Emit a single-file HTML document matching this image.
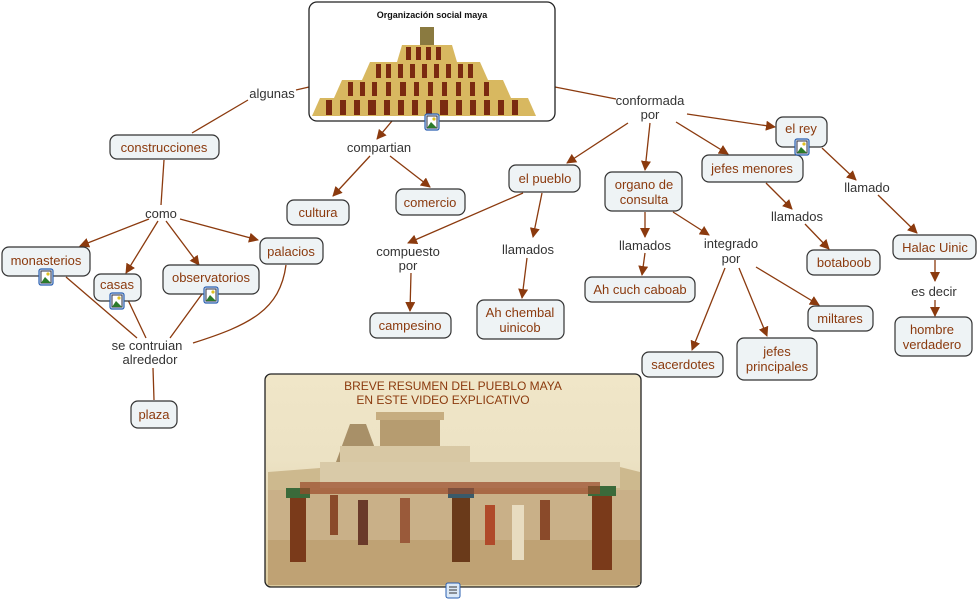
<!DOCTYPE html>
<html><head><meta charset="utf-8"><style>
body{margin:0;background:#fff;}
svg{display:block;font-family:"Liberation Sans",sans-serif;}
.n{fill:#eef3f5;stroke:#333;stroke-width:1.2;}
.t{fill:#8b3a0e;font-size:13px;text-anchor:middle;}
.l{fill:#333;font-size:13px;text-anchor:middle;}
.c{stroke:#8b3a0e;stroke-width:1.3;fill:none;}
</style></head><body>
<svg width="978" height="601" viewBox="0 0 978 601">
<defs>
<marker id="a" viewBox="0 0 10 10" refX="9" refY="5" markerWidth="10" markerHeight="10" markerUnits="userSpaceOnUse" orient="auto"><path d="M0,0L10,5L0,10z" fill="#8b3a0e"/></marker>
<linearGradient id="sky" x1="0" y1="0" x2="0" y2="1"><stop offset="0" stop-color="#f0e6c8"/><stop offset="0.4" stop-color="#ece2c4"/><stop offset="1" stop-color="#dccb9e"/></linearGradient>
<g id="ic"><rect x="-7" y="-8" width="14" height="16" rx="2" fill="#dce9f7" stroke="#2a5fb0" stroke-width="1.2"/><rect x="-5" y="-6" width="10" height="12" fill="#fff" stroke="#334"/><path d="M-5,6L-1,0L5,6z" fill="#2b7a2b"/><circle cx="2" cy="-3" r="1.6" fill="#e0c020"/></g>
</defs>
<g class="c">
<path d="M309,87L296,90"/><path d="M248,100L192,133"/>
<path d="M164,160L161,205"/>
<path d="M149,219L80,246" marker-end="url(#a)"/>
<path d="M158,221L126,273" marker-end="url(#a)"/>
<path d="M166,221L199,265" marker-end="url(#a)"/>
<path d="M180,219L258,240" marker-end="url(#a)"/>
<path d="M66,277L137,338"/><path d="M128,300L146,338"/><path d="M202,294L170,338"/>
<path d="M286,265C280,310 250,325 193,343"/>
<path d="M153,368L154,400"/>
<path d="M392,121L377,139" marker-end="url(#a)"/>
<path d="M370,156L333,196" marker-end="url(#a)"/>
<path d="M390,156L430,187" marker-end="url(#a)"/>
<path d="M555,87L616,99"/>
<path d="M628,123L567,163" marker-end="url(#a)"/>
<path d="M650,123L645,170" marker-end="url(#a)"/>
<path d="M676,122L728,154" marker-end="url(#a)"/>
<path d="M687,114L775,127" marker-end="url(#a)"/>
<path d="M822,148L856,180" marker-end="url(#a)"/>
<path d="M878,195L917,233" marker-end="url(#a)"/>
<path d="M935,260L935,281" marker-end="url(#a)"/>
<path d="M935,300L935,316" marker-end="url(#a)"/>
<path d="M766,183L792,209" marker-end="url(#a)"/>
<path d="M805,224L829,249" marker-end="url(#a)"/>
<path d="M645,212L645,237" marker-end="url(#a)"/>
<path d="M645,253L642,275" marker-end="url(#a)"/>
<path d="M673,212L709,235" marker-end="url(#a)"/>
<path d="M725,268L692,350" marker-end="url(#a)"/>
<path d="M739,268L767,336" marker-end="url(#a)"/>
<path d="M756,267L819,305" marker-end="url(#a)"/>
<path d="M523,193L408,243" marker-end="url(#a)"/>
<path d="M542,193L533,237" marker-end="url(#a)"/>
<path d="M527,258L522,298" marker-end="url(#a)"/>
<path d="M411,273L410,311" marker-end="url(#a)"/>
</g>
<rect x="309" y="2" width="246" height="119" rx="8" fill="#fff" stroke="#222" stroke-width="1.3"/>
<text x="432" y="18" font-size="9" font-weight="bold" text-anchor="middle" fill="#111">Organización social maya</text>
<rect x="420" y="27" width="14" height="18" fill="#8a7a40"/>
<path d="M397,62L402,45L452,45L457,62z" fill="#d8b860"/>
<path d="M362,80L370,62L480,62L488,80z" fill="#d8b860"/>
<path d="M334,98L342,80L503,80L511,98z" fill="#d8b860"/>
<path d="M312,116L320,98L528,98L536,116z" fill="#d8b860"/>
<g fill="#7a2a10">
<rect x="406" y="47" width="5" height="13"/><rect x="416" y="47" width="5" height="13"/><rect x="426" y="47" width="5" height="13"/><rect x="436" y="47" width="5" height="13"/>
<rect x="376" y="64" width="5" height="14"/><rect x="386" y="64" width="5" height="14"/><rect x="398" y="64" width="5" height="14"/><rect x="410" y="64" width="5" height="14"/><rect x="422" y="64" width="5" height="14"/><rect x="434" y="64" width="5" height="14"/><rect x="446" y="64" width="5" height="14"/><rect x="458" y="64" width="5" height="14"/><rect x="468" y="64" width="5" height="14"/>
<rect x="348" y="82" width="5" height="14"/><rect x="360" y="82" width="5" height="14"/><rect x="372" y="82" width="5" height="14"/><rect x="386" y="82" width="5" height="14"/><rect x="400" y="82" width="6" height="14"/><rect x="414" y="82" width="5" height="14"/><rect x="428" y="82" width="5" height="14"/><rect x="442" y="82" width="5" height="14"/><rect x="456" y="82" width="5" height="14"/><rect x="470" y="82" width="5" height="14"/><rect x="484" y="82" width="5" height="14"/>
<rect x="326" y="100" width="6" height="15"/><rect x="340" y="100" width="6" height="15"/><rect x="354" y="100" width="6" height="15"/><rect x="368" y="100" width="8" height="15"/><rect x="384" y="100" width="6" height="15"/><rect x="398" y="100" width="6" height="15"/><rect x="412" y="100" width="6" height="15"/><rect x="426" y="100" width="6" height="15"/><rect x="440" y="100" width="8" height="15"/><rect x="456" y="100" width="6" height="15"/><rect x="470" y="100" width="6" height="15"/><rect x="484" y="100" width="6" height="15"/><rect x="498" y="100" width="6" height="15"/><rect x="512" y="100" width="6" height="15"/>
</g>
<use href="#ic" x="432" y="122"/>
<rect class="n" x="110" y="135" width="109" height="24" rx="7"/><text class="t" x="164" y="152">construcciones</text>
<rect class="n" x="2" y="247" width="88" height="29" rx="7"/><text class="t" x="46" y="265">monasterios</text><use href="#ic" x="46" y="277"/>
<rect class="n" x="94" y="274" width="47" height="27" rx="7"/><text class="t" x="117" y="289">casas</text><use href="#ic" x="117" y="301"/>
<rect class="n" x="163" y="265" width="96" height="29" rx="7"/><text class="t" x="211" y="282">observatorios</text><use href="#ic" x="211" y="295"/>
<rect class="n" x="260" y="238" width="63" height="26" rx="7"/><text class="t" x="291" y="256">palacios</text>
<rect class="n" x="131" y="401" width="46" height="27" rx="7"/><text class="t" x="154" y="419">plaza</text>
<rect class="n" x="287" y="200" width="62" height="25" rx="7"/><text class="t" x="318" y="217">cultura</text>
<rect class="n" x="396" y="189" width="69" height="26" rx="7"/><text class="t" x="430" y="207">comercio</text>
<rect class="n" x="509" y="165" width="71" height="27" rx="7"/><text class="t" x="545" y="183">el pueblo</text>
<rect class="n" x="605" y="172" width="77" height="39" rx="7"/><text class="t" x="644" y="189">organo de</text><text class="t" x="644" y="204">consulta</text>
<rect class="n" x="702" y="155" width="101" height="27" rx="7"/><text class="t" x="752" y="173">jefes menores</text>
<rect class="n" x="776" y="117" width="51" height="30" rx="7"/><text class="t" x="801" y="133">el rey</text><use href="#ic" x="802" y="147"/>
<rect class="n" x="893" y="235" width="83" height="24" rx="7"/><text class="t" x="935" y="252">Halac Uinic</text>
<rect class="n" x="895" y="317" width="77" height="39" rx="7"/><text class="t" x="932" y="334">hombre</text><text class="t" x="932" y="349">verdadero</text>
<rect class="n" x="807" y="250" width="73" height="25" rx="7"/><text class="t" x="844" y="267">botaboob</text>
<rect class="n" x="585" y="277" width="110" height="25" rx="7"/><text class="t" x="640" y="294">Ah cuch caboab</text>
<rect class="n" x="642" y="352" width="81" height="25" rx="7"/><text class="t" x="683" y="369">sacerdotes</text>
<rect class="n" x="737" y="338" width="80" height="42" rx="7"/><text class="t" x="777" y="356">jefes</text><text class="t" x="777" y="371">principales</text>
<rect class="n" x="808" y="306" width="65" height="25" rx="7"/><text class="t" x="840" y="323">miltares</text>
<rect class="n" x="370" y="313" width="81" height="25" rx="7"/><text class="t" x="410" y="330">campesino</text>
<rect class="n" x="477" y="300" width="87" height="39" rx="7"/><text class="t" x="520" y="317">Ah chembal</text><text class="t" x="520" y="332">uinicob</text>
<text class="l" x="272" y="98">algunas</text>
<text class="l" x="161" y="218">como</text>
<text class="l" x="147" y="350">se contruian</text><text class="l" x="150" y="364">alrededor</text>
<text class="l" x="379" y="152">compartian</text>
<text class="l" x="650" y="105">conformada</text><text class="l" x="650" y="119">por</text>
<text class="l" x="867" y="192">llamado</text>
<text class="l" x="934" y="296">es decir</text>
<text class="l" x="797" y="221">llamados</text>
<text class="l" x="645" y="250">llamados</text>
<text class="l" x="731" y="248">integrado</text><text class="l" x="731" y="263">por</text>
<text class="l" x="528" y="254">llamados</text>
<text class="l" x="408" y="256">compuesto</text><text class="l" x="408" y="270">por</text>
<!-- video box -->
<rect x="265" y="374" width="376" height="213" rx="6" fill="url(#sky)" stroke="#222" stroke-width="1.3"/>
<path d="M268,472L320,468L330,462L600,462L640,472L640,585L268,585z" fill="#cdb98e"/>
<path d="M336,462L350,424L366,424L380,462z" fill="#a89068"/>
<rect x="380" y="418" width="60" height="30" fill="#b69c70"/>
<rect x="376" y="412" width="68" height="8" fill="#c6ad80"/>
<rect x="340" y="446" width="130" height="18" fill="#d8c8a4"/>
<rect x="320" y="462" width="300" height="26" fill="#d9caa8"/>
<path d="M268,490L640,490L640,585L268,585z" fill="#c9b088"/>
<path d="M268,540L640,540L640,585L268,585z" fill="#bfa274"/>
<g>
<rect x="290" y="492" width="16" height="70" fill="#7a3a1a"/><rect x="286" y="488" width="24" height="10" fill="#3a6a3a"/>
<rect x="330" y="495" width="8" height="40" fill="#8a4a2a"/>
<rect x="358" y="500" width="10" height="45" fill="#6a3a2a"/>
<rect x="400" y="498" width="10" height="45" fill="#9a5a3a"/>
<rect x="452" y="492" width="18" height="70" fill="#6a3a1a"/><rect x="448" y="488" width="26" height="10" fill="#3a5a6a"/>
<rect x="485" y="505" width="10" height="40" fill="#b04a2a"/>
<rect x="512" y="505" width="12" height="55" fill="#e8dcc0"/>
<rect x="540" y="500" width="10" height="40" fill="#8a4a2a"/>
<rect x="592" y="490" width="20" height="80" fill="#7a3a1a"/><rect x="588" y="486" width="28" height="10" fill="#3a6a3a"/>
</g>
<g fill="#9a4a2a" opacity="0.7"><rect x="300" y="482" width="300" height="12"/></g>
<text x="453" y="390" font-size="12" fill="#8b3a0e" text-anchor="middle">BREVE RESUMEN DEL PUEBLO MAYA</text>
<text x="443" y="404" font-size="12" fill="#8b3a0e" text-anchor="middle">EN ESTE VIDEO EXPLICATIVO</text>
<rect x="446" y="583" width="14" height="15" rx="2" fill="#dce9f7" stroke="#2a5fb0"/><path d="M449,587h8M449,590h8M449,593h8" stroke="#333"/>
</svg>
</body></html>
